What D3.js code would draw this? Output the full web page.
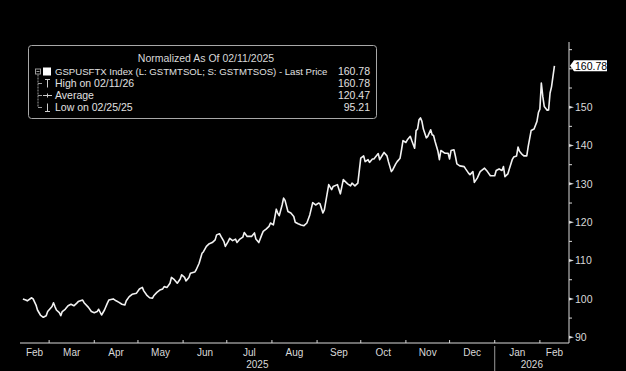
<!DOCTYPE html>
<html><head><meta charset="utf-8">
<script src="https://cdn.jsdelivr.net/npm/d3@7"></script>
<style>html,body{margin:0;padding:0;background:#000;}svg{display:block;}</style>
</head><body>
<svg id="chart" width="626" height="371"></svg>
<script>
const dates = [
"2025-02-11","2025-02-13","2025-02-14","2025-02-17","2025-02-18","2025-02-20","2025-02-21","2025-02-23","2025-02-25","2025-02-27","2025-02-28",
"2025-03-03","2025-03-04","2025-03-05","2025-03-06","2025-03-08","2025-03-09","2025-03-10","2025-03-12","2025-03-14","2025-03-16","2025-03-18","2025-03-20","2025-03-21","2025-03-24","2025-03-25","2025-03-28","2025-03-30",
"2025-04-01","2025-04-03","2025-04-04","2025-04-06","2025-04-08","2025-04-10","2025-04-11","2025-04-14","2025-04-16","2025-04-18","2025-04-20","2025-04-22","2025-04-23","2025-04-25","2025-04-27","2025-04-30",
"2025-05-02","2025-05-04","2025-05-05","2025-05-07","2025-05-09","2025-05-11","2025-05-12","2025-05-14","2025-05-16","2025-05-18","2025-05-19","2025-05-21","2025-05-23","2025-05-24","2025-05-26","2025-05-28","2025-05-30","2025-05-31",
"2025-06-02","2025-06-03","2025-06-05","2025-06-06","2025-06-09","2025-06-10","2025-06-12","2025-06-14","2025-06-15","2025-06-17","2025-06-19","2025-06-21","2025-06-23","2025-06-24","2025-06-26","2025-06-27","2025-06-29","2025-06-30",
"2025-07-02","2025-07-03","2025-07-05","2025-07-07","2025-07-08","2025-07-10","2025-07-12","2025-07-13","2025-07-15","2025-07-17","2025-07-18","2025-07-20","2025-07-21","2025-07-23","2025-07-25","2025-07-26","2025-07-28","2025-07-30","2025-07-31",
"2025-08-02","2025-08-03","2025-08-04","2025-08-05","2025-08-06","2025-08-08","2025-08-09","2025-08-10","2025-08-12","2025-08-14","2025-08-16","2025-08-17","2025-08-19","2025-08-21","2025-08-23","2025-08-25","2025-08-27","2025-08-29","2025-08-31",
"2025-09-02","2025-09-03","2025-09-05","2025-09-06","2025-09-09","2025-09-11","2025-09-12","2025-09-15","2025-09-17","2025-09-19","2025-09-22","2025-09-24","2025-09-25","2025-09-27","2025-09-29",
"2025-10-01","2025-10-03","2025-10-04","2025-10-06","2025-10-07","2025-10-09","2025-10-10","2025-10-13","2025-10-14","2025-10-16","2025-10-17","2025-10-19","2025-10-20","2025-10-22","2025-10-23","2025-10-25","2025-10-26","2025-10-28","2025-10-29","2025-10-30",
"2025-11-01","2025-11-02","2025-11-04","2025-11-05","2025-11-07","2025-11-08","2025-11-09","2025-11-10","2025-11-11","2025-11-12","2025-11-13","2025-11-15","2025-11-16","2025-11-18","2025-11-19","2025-11-20","2025-11-21","2025-11-23","2025-11-24","2025-11-25","2025-11-27","2025-11-28","2025-11-30",
"2025-12-01","2025-12-02","2025-12-04","2025-12-05","2025-12-06","2025-12-08","2025-12-11","2025-12-12","2025-12-14","2025-12-15","2025-12-17","2025-12-18","2025-12-20","2025-12-22","2025-12-25","2025-12-27","2025-12-29",
"2026-01-01","2026-01-02","2026-01-04","2026-01-06","2026-01-07","2026-01-08","2026-01-10","2026-01-11","2026-01-13","2026-01-14","2026-01-16","2026-01-17","2026-01-18","2026-01-20","2026-01-21","2026-01-23","2026-01-24","2026-01-26","2026-01-27","2026-01-28","2026-01-30","2026-01-31",
"2026-02-01","2026-02-02","2026-02-03","2026-02-04","2026-02-06","2026-02-07","2026-02-08","2026-02-09","2026-02-11"
];
const values = [
100,99.7,99.5,100.3,100,98.4,97.1,95.8,95.21,95.6,96.7,
98,99,98,97.1,96.4,95.6,96.7,97.3,98.2,98.6,98.2,98.9,99.3,99.7,99,97.8,96.7,
96.4,96.7,97.3,95.8,97.1,98.9,99.7,100,99.5,99.1,98.6,98.4,99.5,100.6,101.2,101.5,
102.6,103,102.1,101,100.3,100.2,100.9,101.7,102.3,102.6,103.2,103,104.1,105.6,105,104.1,105.2,106.3,
105.6,104.7,105.6,106.7,107,107.6,109.3,111.9,112.3,113.7,114.4,114.7,115.4,116.7,117,116.3,115,113.7,
115,115.8,115.2,115.6,114.7,115.6,116.1,117.3,116.3,116.3,116.3,117.2,115.6,114.7,116.7,117.6,118.2,118.9,119.8,
119.3,121.3,123.4,122.4,121.7,124.5,126.3,125.7,122.8,122.4,121.5,120,119.6,119.3,119.1,119.8,121.9,125.1,124.5,
125,124.8,122.4,123.2,129.8,128.5,129.3,129.8,127.4,131.1,130,129.5,130.2,129.5,130.2,
136.7,137.3,135.8,136.3,135.6,136.5,136.5,137.9,136.3,137.6,138.2,137.3,135.8,133.2,133.7,135.2,135.8,136.7,138.9,141.3,
140.8,141.5,142.4,141.3,139.3,143.9,144.3,146.7,147.2,146.3,144.3,142,142.4,144.1,142.8,142.6,141.1,138.5,136.3,138.7,138.2,138,138,
136.5,138.7,138.9,137.2,135.2,134.7,134.5,133.9,132.8,132.4,133.2,130.4,131.5,133.2,134.1,133.2,132.1,
132.1,133.5,133.9,133.5,134.5,131.9,132.6,133.9,136.3,137,137.3,139.6,138.5,137.6,137.3,137.3,139.8,143.9,144.1,144.3,146.3,148.6,
149.5,156.3,152.8,150.2,149.2,149.3,153.7,155.3,160.78
];
const yTickValues = [90,100,110,120,130,140,150];
const yMinorValues = [95,105,115,125,135,145,155,160,165];
const monthLabels = ["Feb","Mar","Apr","May","Jun","Jul","Aug","Sep","Oct","Nov","Dec","Jan","Feb"];
const yearLabels = ["2025","2026"];
const legendTitle = "Normalized As Of 02/11/2025";
const legendRows = [
  ["GSPUSFTX Index (L: GSTMTSOL; S: GSTMTSOS) - Last Price","160.78"],
  ["High on 02/11/26","160.78"],
  ["Average","120.47"],
  ["Low on 02/25/25","95.21"]
];
const lastPrice = 160.78;

const parse = d3.timeParse("%Y-%m-%d");
const data = dates.map((d,i)=>({date:parse(d), value:values[i]}));

const svg = d3.select("#chart");
const FONT = "Liberation Sans, Arial, sans-serif";
const axisColor = "#d9d9d9";

const x = d3.scaleTime().domain([parse("2025-02-09"), parse("2026-02-21")]).range([20, 569]);
const y = d3.scaleLinear().domain([88.5, 167]).range([343, 42]);

// line
svg.append("path").datum(data)
  .attr("fill","none").attr("stroke","#f2f2f2").attr("stroke-width",1.6)
  .attr("stroke-linejoin","round")
  .attr("d", d3.line().x(d=>x(d.date)).y(d=>y(d.value)));

// y axis
const yAxisX = 569;
svg.append("line").attr("x1",yAxisX).attr("x2",yAxisX).attr("y1",42).attr("y2",343)
  .attr("stroke",axisColor).attr("stroke-width",1);
yMinorValues.forEach(v=>{
  svg.append("line").attr("x1",yAxisX).attr("x2",yAxisX+3).attr("y1",y(v)).attr("y2",y(v))
    .attr("stroke",axisColor);
});
yTickValues.forEach(v=>{
  const yy = y(v);
  svg.append("path").attr("d",`M${yAxisX},${yy-1.5}L${yAxisX+5},${yy}L${yAxisX},${yy+1.5}Z`)
    .attr("fill",axisColor);
  svg.append("text").attr("x",yAxisX+6).attr("y",yy).attr("dy","0.35em")
    .attr("fill",axisColor).attr("font-family",FONT).attr("font-size",10.5).text(v);
});
// last price label
const lpY = y(lastPrice);
svg.append("path")
  .attr("d",`M${yAxisX+1},${lpY}L${yAxisX+5},${lpY-5.5}L${yAxisX+38},${lpY-5.5}L${yAxisX+38},${lpY+5.5}L${yAxisX+5},${lpY+5.5}Z`)
  .attr("fill","#ffffff");
svg.append("text").attr("x",yAxisX+6).attr("y",lpY).attr("dy","0.35em")
  .attr("fill","#000").attr("font-family",FONT).attr("font-size",10.5).text(lastPrice.toFixed(2));

// x axis
svg.append("line").attr("x1",20).attr("x2",569).attr("y1",343).attr("y2",343)
  .attr("stroke",axisColor);
const monthStarts = d3.timeMonth.range(parse("2025-03-01"), parse("2026-02-02"));
monthStarts.forEach(m=>{
  svg.append("line").attr("x1",x(m)).attr("x2",x(m)).attr("y1",343).attr("y2",340)
    .attr("stroke",axisColor);
});
const bounds = [x.range()[0], ...monthStarts.map(m=>x(m)), x.range()[1]];
monthLabels.forEach((lab,i)=>{
  const cx = (bounds[i]+bounds[i+1])/2;
  svg.append("text").attr("x",cx).attr("y",352).attr("dy","0.35em").attr("text-anchor","middle")
    .attr("fill",axisColor).attr("font-family",FONT).attr("font-size",10).text(lab);
});
const jan = x(parse("2026-01-01"));
svg.append("line").attr("x1",jan).attr("x2",jan).attr("y1",346).attr("y2",371)
  .attr("stroke","#9a9a9a");
svg.append("text").attr("x",(20+jan)/2).attr("y",364).attr("dy","0.35em").attr("text-anchor","middle")
  .attr("fill",axisColor).attr("font-family",FONT).attr("font-size",10).text(yearLabels[0]);
svg.append("text").attr("x",(jan+569)/2).attr("y",364).attr("dy","0.35em").attr("text-anchor","middle")
  .attr("fill",axisColor).attr("font-family",FONT).attr("font-size",10).text(yearLabels[1]);

// legend
const lg = svg.append("g");
lg.append("rect").attr("x",28.5).attr("y",45.5).attr("width",348).attr("height",73).attr("rx",3)
  .attr("fill","#000").attr("stroke","#a8a8a8").attr("stroke-width",1);
lg.append("text").attr("x",206).attr("y",58).attr("dy","0.35em").attr("text-anchor","middle")
  .attr("fill","#d8d8d8").attr("font-family",FONT).attr("font-size",10.5).text(legendTitle);
const rowY = [71.5,83.5,95.5,107.5];
legendRows.forEach((r,i)=>{
  lg.append("text").attr("x",55).attr("y",rowY[i]).attr("dy","0.35em")
    .attr("fill","#e0e0e0").attr("font-family",FONT).attr("font-size", i===0 ? 9.6 : 10.5).text(r[0]);
  lg.append("text").attr("x",370).attr("y",rowY[i]).attr("dy","0.35em").attr("text-anchor","end")
    .attr("fill","#e0e0e0").attr("font-family",FONT).attr("font-size",10.5).text(r[1]);
});
const gc = "#9a9a9a";
// tree box
lg.append("rect").attr("x",35.5).attr("y",rowY[0]-2.5).attr("width",5).attr("height",5).attr("fill","none").attr("stroke",gc);
lg.append("line").attr("x1",36.5).attr("x2",39.5).attr("y1",rowY[0]).attr("y2",rowY[0]).attr("stroke",gc);
lg.append("line").attr("x1",38).attr("x2",38).attr("y1",rowY[0]+3).attr("y2",rowY[3])
  .attr("stroke",gc).attr("stroke-dasharray","2,1");
[1,2,3].forEach(i=>{
  lg.append("line").attr("x1",38).attr("x2",42).attr("y1",rowY[i]).attr("y2",rowY[i]).attr("stroke",gc);
});
lg.append("rect").attr("x",43).attr("y",rowY[0]-4).attr("width",8).attr("height",8).attr("fill","#fff");
// high glyph
lg.append("line").attr("x1",45).attr("x2",50).attr("y1",rowY[1]-4).attr("y2",rowY[1]-4).attr("stroke","#ccc");
lg.append("line").attr("x1",47.5).attr("x2",47.5).attr("y1",rowY[1]-4).attr("y2",rowY[1]+4).attr("stroke","#ccc");
// avg glyph
lg.append("line").attr("x1",43).attr("x2",52).attr("y1",rowY[2]).attr("y2",rowY[2]).attr("stroke","#ccc");
lg.append("line").attr("x1",47.5).attr("x2",47.5).attr("y1",rowY[2]-2).attr("y2",rowY[2]+2).attr("stroke","#ccc");
// low glyph
lg.append("line").attr("x1",45).attr("x2",50).attr("y1",rowY[3]+4).attr("y2",rowY[3]+4).attr("stroke","#ccc");
lg.append("line").attr("x1",47.5).attr("x2",47.5).attr("y1",rowY[3]-4).attr("y2",rowY[3]+4).attr("stroke","#ccc");
</script>
</body></html>
